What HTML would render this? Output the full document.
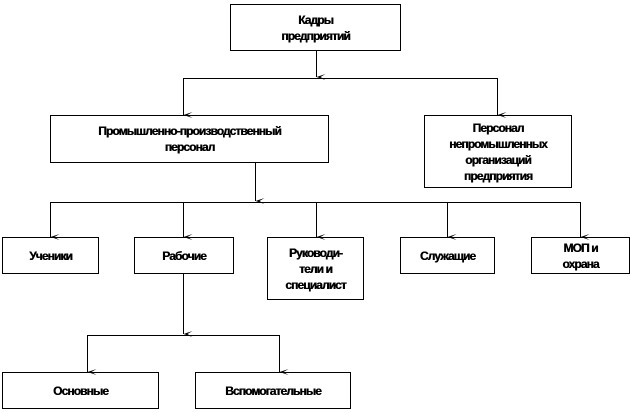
<!DOCTYPE html>
<html><head><meta charset="utf-8"><style>
html,body{margin:0;padding:0;background:#fff;}
body{width:630px;height:412px;position:relative;overflow:hidden;}
.b{position:absolute;border:1px solid #000;box-sizing:border-box;display:flex;align-items:center;justify-content:center;text-align:center;font-family:"Liberation Sans",sans-serif;font-weight:bold;font-size:12px;line-height:16px;letter-spacing:-0.9px;color:#000;text-shadow:0.4px 0 0 #000;}
svg{position:absolute;left:0;top:0;}
</style></head><body>
<svg width="630" height="412">
<defs><marker id="a" markerWidth="6" markerHeight="10" refX="3" refY="9" orient="auto" markerUnits="userSpaceOnUse"><path d="M0,0 L3,9 L6,0 L3,5 Z" fill="#000"/></marker></defs>
<g stroke="#000" stroke-width="1" fill="none">
<line x1="316.5" y1="51" x2="316.5" y2="77" marker-end="url(#a)"/>
<line x1="183.5" y1="78.5" x2="497.5" y2="78.5"/>
<line x1="183.5" y1="78" x2="183.5" y2="115" marker-end="url(#a)"/>
<line x1="497.5" y1="78" x2="497.5" y2="115" marker-end="url(#a)"/>
<line x1="255.5" y1="163" x2="255.5" y2="201" marker-end="url(#a)"/>
<line x1="50.5" y1="202.5" x2="580.5" y2="202.5"/>
<line x1="50.5" y1="202" x2="50.5" y2="237" marker-end="url(#a)"/>
<line x1="183.5" y1="202" x2="183.5" y2="237" marker-end="url(#a)"/>
<line x1="316.5" y1="202" x2="316.5" y2="237" marker-end="url(#a)"/>
<line x1="447.5" y1="202" x2="447.5" y2="237" marker-end="url(#a)"/>
<line x1="580.5" y1="202" x2="580.5" y2="237" marker-end="url(#a)"/>
<line x1="183.5" y1="274" x2="183.5" y2="334" marker-end="url(#a)"/>
<line x1="87.5" y1="335.5" x2="279.5" y2="335.5"/>
<line x1="87.5" y1="335" x2="87.5" y2="372" marker-end="url(#a)"/>
<line x1="279.5" y1="335" x2="279.5" y2="372" marker-end="url(#a)"/>
</g></svg>
<div class="b" style="left:230px;top:4px;width:171px;height:47px;">Кадры<br>предприятий</div>
<div class="b" style="left:50px;top:115px;width:279px;height:48px;">Промышленно-производственный<br>персонал</div>
<div class="b" style="left:424px;top:115px;width:148px;height:73px;">Персонал<br>непромышленных<br>организаций<br>предприятия</div>
<div class="b" style="left:2px;top:237px;width:97px;height:37px;">Ученики</div>
<div class="b" style="left:134px;top:237px;width:100px;height:37px;">Рабочие</div>
<div class="b" style="left:267px;top:237px;width:97px;height:63px;">Руководи-<br>тели и<br>специалист</div>
<div class="b" style="left:400px;top:237px;width:95px;height:37px;">Служащие</div>
<div class="b" style="left:531px;top:237px;width:99px;height:37px;">МОП и<br>охрана</div>
<div class="b" style="left:2px;top:372px;width:157px;height:37px;">Основные</div>
<div class="b" style="left:195px;top:372px;width:156px;height:37px;">Вспомогательные</div>
</body></html>
